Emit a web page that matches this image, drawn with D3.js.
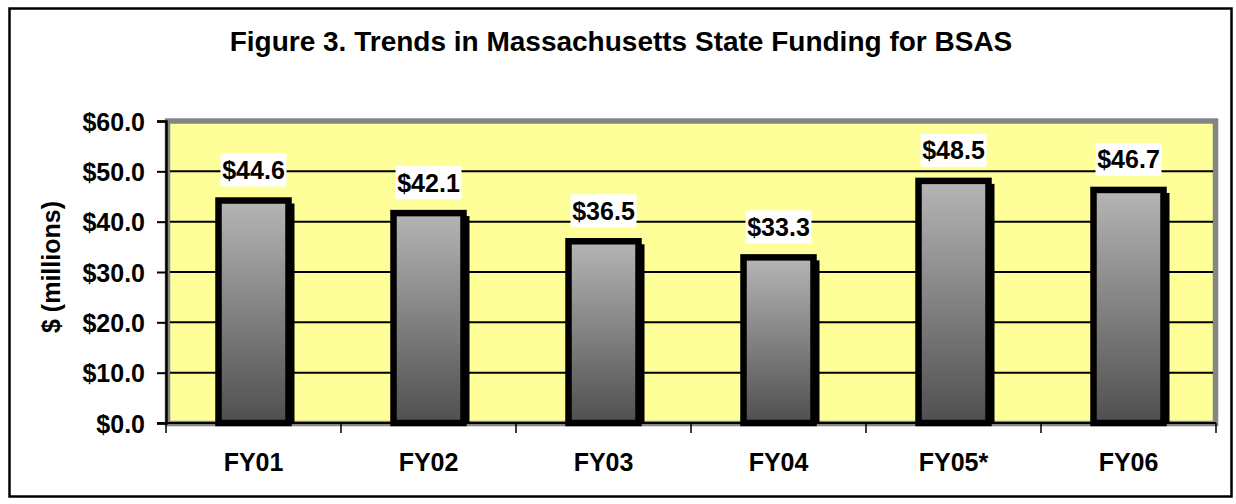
<!DOCTYPE html>
<html>
<head>
<meta charset="utf-8">
<script src="https://cdn.jsdelivr.net/npm/d3@7"></script>
<style>
body{margin:0;background:#fff;}
text{font-family:"Liberation Sans",Arial,sans-serif;font-weight:bold;fill:#000;}
</style>
</head>
<body>
<div id="vis"></div>
<script>
// chart data
var years = ["FY01","FY02","FY03","FY04","FY05*","FY06"];
var funding = [44.6,42.1,36.5,33.3,48.5,46.7];
var yTicks = [0,10,20,30,40,50,60];
var chartTitle = "Figure 3. Trends in Massachusetts State Funding for BSAS";
var yTitle = "$ (millions)";

var svg = d3.select("#vis").append("svg").attr("width",1236).attr("height",504);

// gradient for the bars
var grad = svg.append("defs").append("linearGradient").attr("id","barGrad")
    .attr("x1",0).attr("y1",0).attr("x2",0).attr("y2",1);
grad.append("stop").attr("offset","0%").attr("stop-color","#b5b5b5");
grad.append("stop").attr("offset","100%").attr("stop-color","#4f4f4f");
svg.select("defs").append("clipPath").attr("id","plotClip")
    .append("rect").attr("x",166).attr("y",100).attr("width",1052).attr("height",323);

// outer border
svg.append("rect").attr("x",9.5).attr("y",8.5).attr("width",1222).attr("height",488)
    .attr("fill","white").attr("stroke","black").attr("stroke-width",2.5);

// scales
var x = d3.scaleBand().domain(years).range([166,1216]).paddingInner(0).paddingOuter(0);
var y = d3.scaleLinear().domain([0,60]).range([423,121]);

// plot area with grey frame
svg.append("rect").attr("x",167.5).attr("y",y(60)).attr("width",1048).attr("height",y(0)-y(60)+0.5)
    .attr("fill","#ffff99").attr("stroke","#858585").attr("stroke-width",5.5);

// gridlines
svg.append("g").selectAll("line").data(yTicks.filter(d => d > 0 && d < 60)).enter().append("line")
    .attr("x1",170).attr("x2",1213).attr("y1",d => y(d)).attr("y2",d => y(d))
    .attr("stroke","black").attr("stroke-width",2);

// y axis
var yAxis = svg.append("g").attr("transform","translate(166,0)")
    .call(d3.axisLeft(y).tickValues(yTicks).tickSize(9).tickFormat(d => "$" + d3.format(".1f")(d)));
yAxis.select(".domain").attr("stroke","black").attr("stroke-width",2.5);
yAxis.selectAll(".tick line").attr("stroke","black").attr("stroke-width",2);
yAxis.selectAll(".tick text").attr("x",-21).attr("dy","0.36em")
    .style("font-size","25px").style("font-family","'Liberation Sans',Arial,sans-serif").style("font-weight","bold");

// x axis
var xAxis = svg.append("g").attr("transform","translate(0,423)")
    .call(d3.axisBottom(x).tickSize(0).tickPadding(0));
xAxis.select(".domain").remove();
xAxis.selectAll(".tick text").attr("y",48).attr("dy",0)
    .style("font-size","25px").style("font-family","'Liberation Sans',Arial,sans-serif").style("font-weight","bold");
svg.append("line").attr("x1",157).attr("x2",1216).attr("y1",423).attr("y2",423)
    .attr("stroke","black").attr("stroke-width",2);
// category separator ticks
var seps = years.map(d => x(d)).concat([x(years[years.length-1]) + x.bandwidth()]);
svg.append("g").selectAll("line").data(seps).enter().append("line")
    .attr("x1",d => d).attr("x2",d => d).attr("y1",423).attr("y2",433)
    .attr("stroke","black").attr("stroke-width",1.5);

// bars
var barW = x.bandwidth()*0.4;
var bars = svg.append("g").selectAll("g").data(funding).enter().append("g");
bars.append("rect").attr("clip-path","url(#plotClip)")
    .attr("x",(d,i) => x(years[i]) + (x.bandwidth()-barW)/2 + 3)
    .attr("y",d => y(d) + 8)
    .attr("width",barW).attr("height",d => y(0)-y(d))
    .attr("fill","black").attr("stroke","black").attr("stroke-width",6);
bars.append("rect")
    .attr("x",(d,i) => x(years[i]) + (x.bandwidth()-barW)/2)
    .attr("y",d => y(d) + 2)
    .attr("width",barW).attr("height",d => y(0)-y(d) - 2)
    .attr("fill","url(#barGrad)").attr("stroke","black").attr("stroke-width",6.5);

// value labels with white boxes
bars.append("rect")
    .attr("x",(d,i) => x(years[i]) + x.bandwidth()/2 - 33)
    .attr("y",d => y(d) - 45).attr("width",66).attr("height",33).attr("fill","white");
bars.append("text")
    .attr("x",(d,i) => x(years[i]) + x.bandwidth()/2)
    .attr("y",d => y(d) - 19.5)
    .attr("text-anchor","middle").style("font-size","25px")
    .text(d => "$" + d3.format(".1f")(d));

// titles
svg.append("text").attr("x",621).attr("y",51).attr("text-anchor","middle")
    .style("font-size","28px").text(chartTitle);
svg.append("text").attr("transform","translate(60,267) rotate(-90)").attr("text-anchor","middle")
    .style("font-size","25px").text(yTitle);
</script>
</body>
</html>
